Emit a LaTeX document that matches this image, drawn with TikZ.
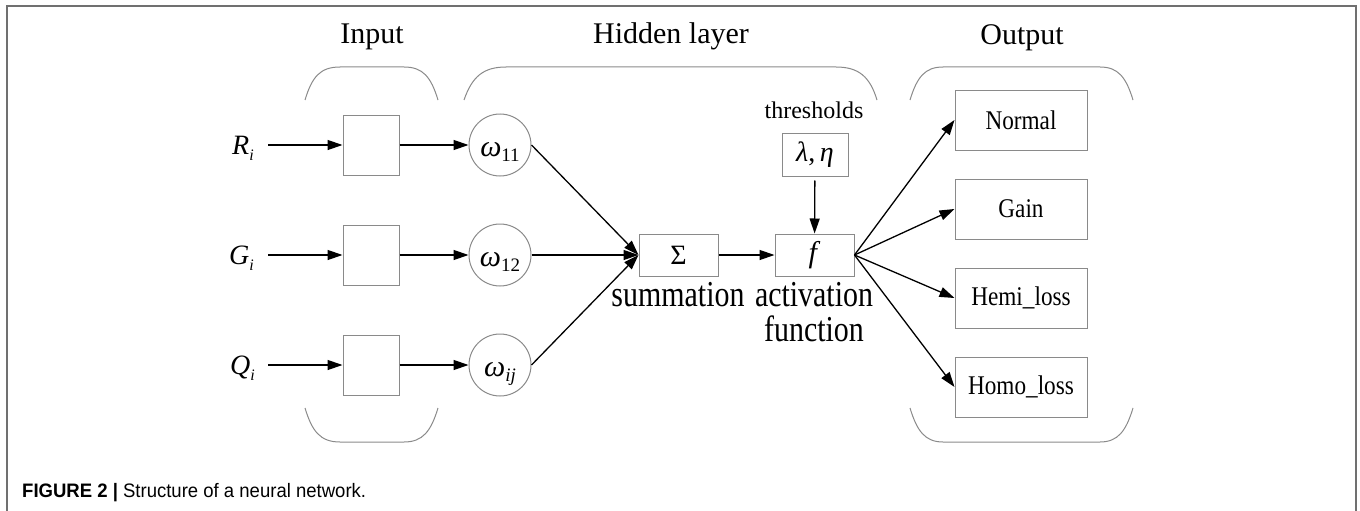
\documentclass[tikz,border=0pt]{standalone}
\usepackage{fontspec}
\setmainfont{Liberation Serif}
\setsansfont{Liberation Sans}
\newfontfamily\condlbl[FakeStretch=0.82]{Liberation Serif}
\newfontfamily\condbox[FakeStretch=0.86]{Liberation Serif}
\newfontfamily\condcap[FakeStretch=0.95]{Liberation Sans}
\usetikzlibrary{arrows.meta}
\newcommand{\isub}[1]{\raisebox{-6pt}{\fontsize{16}{16}\selectfont\textit{#1}}}
\newcommand{\wsub}[1]{\raisebox{-5pt}{\fontsize{19}{19}\selectfont #1}}
\definecolor{shapegray}{HTML}{8A8A8A}
\definecolor{framegray}{HTML}{707070}
\begin{document}
\begin{tikzpicture}[x=1pt,y=-1pt,
  inbox/.style={draw=shapegray, line width=1pt, minimum width=56pt, minimum height=60pt, inner sep=0pt},
  wcirc/.style={draw=shapegray, line width=1pt, circle, minimum size=62pt, inner sep=0pt, text height=22pt, text depth=0pt, font=\fontsize{30}{30}\selectfont},
  midbox/.style={draw=shapegray, line width=1pt, minimum width=79pt, minimum height=42pt, inner sep=0pt},
  outbox/.style={draw=shapegray, line width=1pt, minimum width=132pt, minimum height=60pt, inner sep=0pt, font=\condbox\fontsize{27}{27}\selectfont},
  hdr/.style={anchor=base, inner sep=0pt, font=\fontsize{30}{30}\selectfont},
  sublbl/.style={anchor=base, inner sep=0pt, font=\condlbl\fontsize{36.5}{36.5}\selectfont},
  varlbl/.style={anchor=base west, inner sep=0pt, font=\fontsize{28}{28}\selectfont},
  arr/.style={line width=1.3pt, -{Triangle[length=15pt,width=10pt]}},
  brk/.style={draw=shapegray, line width=1pt}
]
\useasboundingbox (0,0) rectangle (1360,511);
\clip (0,0) rectangle (1360,511);
% frame
\draw[framegray, line width=2pt] (7,530) -- (7,6) -- (1356,6) -- (1356,530);

% headers
\node[hdr] (hin) at (372,44) {Input};
\node[hdr] (hhid) at (671,44) {Hidden layer};
\node[hdr] (hout) at (1022,45) {Output};

% brackets
\draw[brk] (305,100) .. controls (312,77) and (320,67) .. (340,67) -- (404,67) .. controls (423,67) and (431,77) .. (438,100);
\draw[brk] (305,408) .. controls (312,431) and (320,442) .. (340,442) -- (404,442) .. controls (423,442) and (431,431) .. (438,408);
\draw[brk] (464,100) .. controls (472,77) and (483,67) .. (506,67) -- (836,67) .. controls (859,67) and (870,77) .. (877,100);
\draw[brk] (910,100) .. controls (917,77) and (925,67) .. (943,67) -- (1100,67) .. controls (1118,67) and (1126,77) .. (1133,100);
\draw[brk] (910,408) .. controls (917,431) and (925,442) .. (943,442) -- (1100,442) .. controls (1118,442) and (1126,431) .. (1133,408);

% input variables
\node[varlbl] (ri) at (232,154) {\textit{R}\isub{i}};
\node[varlbl] (gi) at (229,264) {\textit{G}\isub{i}};
\node[varlbl] (qi) at (230,374) {\textit{Q}\isub{i}};
\coordinate (r0) at (268,145);
\coordinate (g0) at (268,255);
\coordinate (q0) at (268,365);

% input boxes
\node[inbox] (in1) at (371,145) {};
\node[inbox] (in2) at (371,255) {};
\node[inbox] (in3) at (371,365) {};

% weights
\node[wcirc] (w1) at (500,145) {\textit{ω}\wsub{11}};
\node[wcirc] (w2) at (500,255) {\textit{ω}\wsub{12}};
\node[wcirc] (w3) at (500,365) {\textit{ω}\raisebox{-5pt}{\fontsize{19}{19}\selectfont\textit{ij}}};

% summation and activation
\node[midbox, font=\fontsize{28}{28}\selectfont] (sum) at (678.5,255) {Σ};
\node[midbox, font=\fontsize{30}{30}\selectfont] (act) at (814.5,255) {\textit{f}};
\node[draw=shapegray, line width=1pt, minimum width=66pt, minimum height=43pt, inner sep=0pt, font=\fontsize{28}{28}\selectfont] (thr) at (815,154.5) {\textit{λ},\,\textit{η}};
\node[anchor=base, inner sep=0pt, font=\fontsize{24}{24}\selectfont] (thrlbl) at (814,118) {thresholds};
\node[sublbl] (sumlbl) at (678,306) {summation};
\node[sublbl] (actlbl) at (814,306) {activation};
\node[sublbl] (fnlbl) at (814,341) {function};

% outputs
\node[outbox] (o1) at (1021,120) {Normal};
\node[outbox] (o2) at (1021,209) {Gain};
\node[outbox] (o3) at (1021,298) {Hemi\_loss};
\node[outbox] (o4) at (1021,387) {Homo\_loss};

% connectors
\draw[arr] (r0) -- (in1);
\draw[arr] (g0) -- (in2);
\draw[arr] (q0) -- (in3);
\draw[arr] (in1) -- (w1);
\draw[arr] (in2) -- (w2);
\draw[arr] (in3) -- (w3);
\draw[arr] (w1.east) -- (sum.west);
\draw[arr] (w2.east) -- (sum.west);
\draw[arr] (w3.east) -- (sum.west);
\draw[arr] (sum) -- (act);
\draw[arr, shorten <=4pt] (thr) -- (act);
\draw[arr] (act.east) -- (o1.west);
\draw[arr] (act.east) -- (o2.west);
\draw[arr] (act.east) -- (o3.west);
\draw[arr] (act.east) -- (o4.west);

% caption
\node[anchor=base west, inner sep=0pt, font=\condcap\fontsize{19.5}{19.5}\selectfont] (cap) at (22,497) {\textbf{FIGURE 2 |} Structure of a neural network.};
\end{tikzpicture}
\end{document}
